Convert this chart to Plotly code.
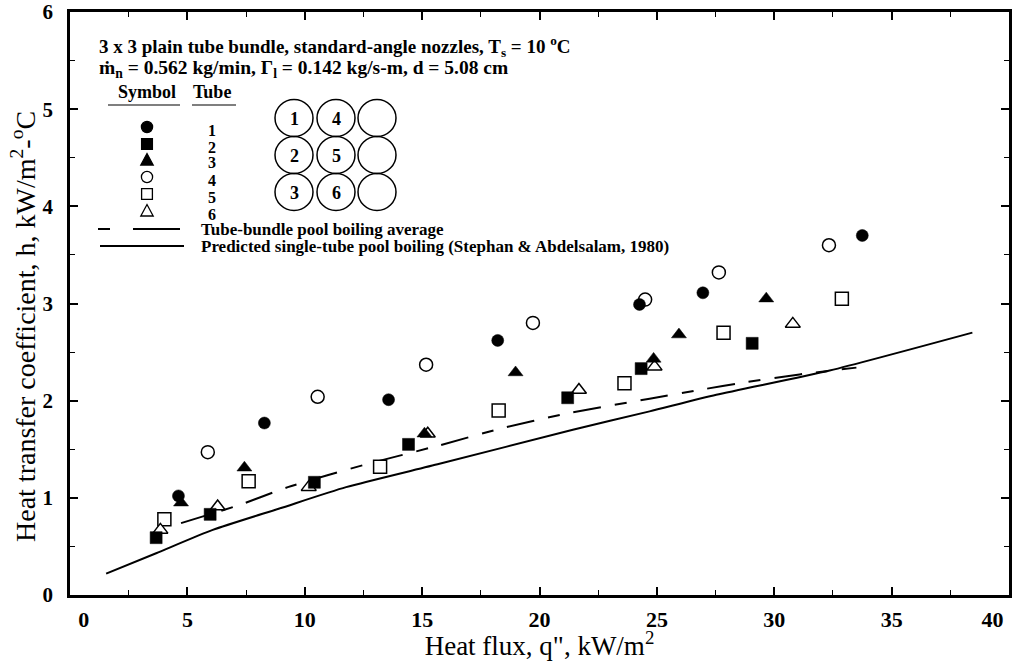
import plotly.graph_objects as go

# ---------------- data ----------------
tube1_q = [4.62, 8.28, 13.57, 18.22, 24.26, 26.96, 33.75]
tube1_h = [1.02, 1.77, 2.01, 2.62, 2.99, 3.11, 3.70]
tube2_q = [3.67, 5.97, 10.41, 14.42, 21.20, 24.33, 29.06]
tube2_h = [0.59, 0.83, 1.16, 1.55, 2.03, 2.33, 2.59]
tube3_q = [4.73, 7.43, 15.10, 18.98, 24.86, 25.94, 29.66]
tube3_h = [0.95, 1.31, 1.66, 2.29, 2.43, 2.68, 3.05]
tube4_q = [5.87, 10.55, 15.17, 19.72, 24.50, 27.64, 32.33]
tube4_h = [1.47, 2.04, 2.37, 2.80, 3.04, 3.32, 3.60]
tube5_q = [4.02, 7.61, 13.21, 18.26, 23.62, 27.84, 32.88]
tube5_h = [0.78, 1.17, 1.32, 1.90, 2.18, 2.70, 3.05]
tube6_q = [3.85, 6.29, 10.17, 15.24, 21.68, 24.90, 30.79]
tube6_h = [0.67, 0.91, 1.11, 1.66, 2.11, 2.35, 2.79]

avg_q = [4.73, 7.20, 9.28, 12.54, 15.74, 18.30, 21.20, 24.69, 26.80, 28.80, 31.08, 33.50]
avg_h = [0.74, 0.925, 1.11, 1.34, 1.54, 1.71, 1.87, 2.02, 2.11, 2.19, 2.27, 2.34]

pred_q = [1.54, 3.67, 6.08, 8.92, 11.76, 15.74, 21.42, 24.69, 27.53, 32.36, 38.44]
pred_h = [0.22, 0.43, 0.67, 0.89, 1.11, 1.35, 1.70, 1.89, 2.06, 2.31, 2.70]

x_tick_vals = [0, 5, 10, 15, 20, 25, 30, 35, 40]
x_tick_text = ["\u00a0\u00a0\u00a0\u00a0\u00a00", "5", "10", "15", "20", "25", "30", "35",
               "40\u00a0\u00a0\u00a0\u00a0\u00a0\u00a0"]
y_tick_vals = [0, 1, 2, 3, 4, 5, 6]

tube_labels = ["1", "2", "3", "4", "5", "6"]

# ---------------- layout geometry ----------------
W, H = 1013, 661
ML, MR, MT, MB = 70, 4, 12, 66
PW, PH = W - ML - MR, H - MT - MB
SERIF = "Liberation Serif"


def px(x):
    return (x - ML) / PW


def py(y):
    return (H - MB - y) / PH


fig = go.Figure()

# curves
fig.add_trace(go.Scatter(x=pred_q, y=pred_h, mode="lines",
                         line=dict(color="black", width=2, shape="spline", smoothing=0.6),
                         showlegend=False, hoverinfo="skip"))
fig.add_trace(go.Scatter(x=avg_q, y=avg_h, mode="lines",
                         line=dict(color="black", width=2, dash="28px,14px,12px,14px",
                                   shape="spline", smoothing=0.6),
                         showlegend=False, hoverinfo="skip"))

# open markers first, filled on top
open_series = [(tube4_q, tube4_h, "circle"), (tube5_q, tube5_h, "square"),
               (tube6_q, tube6_h, "triangle-up")]
for q, h, sym in open_series:
    fig.add_trace(go.Scatter(x=q, y=h, mode="markers", showlegend=False,
                             marker=dict(symbol=sym, size=13, color="white",
                                         line=dict(color="black", width=1.5))))
filled_series = [(tube1_q, tube1_h, "circle", 12), (tube2_q, tube2_h, "square", 12),
                 (tube3_q, tube3_h, "triangle-up", 13)]
for q, h, sym, s in filled_series:
    fig.add_trace(go.Scatter(x=q, y=h, mode="markers", showlegend=False,
                             marker=dict(symbol=sym, size=s, color="black",
                                         line=dict(color="black", width=0.5))))

shapes = []
annotations = []


def text(x, y, s, size=18, anchor="left", bold=True, angle=0):
    annotations.append(dict(x=px(x), y=py(y), xref="paper", yref="paper", text=s,
                            showarrow=False, xanchor=anchor, yanchor="middle",
                            textangle=angle,
                            font=dict(family=SERIF, size=size, color="black",
                                      weight="bold" if bold else "normal")))


def hline(x0, x1, y, w=1.5):
    shapes.append(dict(type="line", xref="paper", yref="paper", x0=px(x0), x1=px(x1),
                       y0=py(y), y1=py(y), line=dict(color="black", width=w)))


# header text
text(97, 46, "3 x 3 plain tube bundle, standard-angle nozzles, T<sub>s</sub> = 10 <sup>o</sup>C", size=19)
text(97, 69, "\u1e41<sub>n</sub> = 0.562 kg/min, \u0393<sub>l</sub> = 0.142 kg/s-m, d = 5.08 cm", size=19.5)

# legend table header
text(147, 92, "Symbol", anchor="center")
text(212, 92, "Tube", anchor="center")
hline(108, 180, 105, w=1.2)
hline(192, 236, 105, w=1.2)

# legend glyphs
gx = 147
rows = [127, 144, 160, 177, 194, 211]
glyph_kinds = [("circle", True), ("square", True), ("tri", True),
               ("circle", False), ("square", False), ("tri", False)]
for (kind, filled), yy, lab in zip(glyph_kinds, rows, tube_labels):
    fill = "black" if filled else "white"
    if kind == "circle":
        r = 5.6
        shapes.append(dict(type="circle", xref="paper", yref="paper",
                           x0=px(gx - r), x1=px(gx + r), y0=py(yy + r), y1=py(yy - r),
                           fillcolor=fill, line=dict(color="black", width=1.3)))
    elif kind == "square":
        r = 5.4
        shapes.append(dict(type="rect", xref="paper", yref="paper",
                           x0=px(gx - r), x1=px(gx + r), y0=py(yy + r), y1=py(yy - r),
                           fillcolor=fill, line=dict(color="black", width=1.3)))
    else:
        r = 6.2
        path = "M {a},{b} L {c},{b} L {d},{e} Z".format(
            a=px(gx - r), b=py(yy + 5), c=px(gx + r), d=px(gx), e=py(yy - 6.5))
        shapes.append(dict(type="path", xref="paper", yref="paper", path=path,
                           fillcolor=fill, line=dict(color="black", width=1.3)))
    text(212, yy + 3, lab, size=16, anchor="center")

# line legend
hline(98, 110, 229, w=2)
hline(133, 180, 229, w=2)
text(199, 229, "Tube-bundle pool boiling average", size=17)
hline(100, 184, 246, w=2)
text(199, 246, "Predicted single-tube pool boiling (Stephan &amp; Abdelsalam, 1980)", size=17)

# tube bundle schematic
cols = [294, 336, 377]
rws = [118, 155, 192]
numbers = [["1", "4", ""], ["2", "5", ""], ["3", "6", ""]]
for ri, yy in enumerate(rws):
    for ci, xx in enumerate(cols):
        shapes.append(dict(type="circle", xref="paper", yref="paper",
                           x0=px(xx - 19), x1=px(xx + 19), y0=py(yy + 18.5), y1=py(yy - 18.5),
                           line=dict(color="black", width=1.5), fillcolor="rgba(0,0,0,0)"))
        if numbers[ri][ci]:
            text(xx, yy + 1, numbers[ri][ci], size=18, anchor="center")

# y-axis title placed as in the reference (slightly below the plot centre)
text(23, 327, "Heat transfer coefficient, h, kW/m<sup>2</sup>-<sup>o</sup>C", size=28,
     anchor="center", bold=False, angle=-90)

axis_common = dict(showline=True, linecolor="black", linewidth=2.5, mirror="ticks",
                   ticks="inside", ticklen=8, tickwidth=1.5, tickcolor="black",
                   showgrid=False, zeroline=False, automargin=False)

fig.update_layout(
    width=W, height=H,
    margin=dict(l=ML, r=MR, t=MT, b=MB),
    paper_bgcolor="white", plot_bgcolor="white",
    showlegend=False,
    shapes=shapes, annotations=annotations,
    xaxis=dict(range=[0, 40], tickvals=x_tick_vals, ticktext=x_tick_text,
               ticklabeloverflow="allow",
               minor=dict(dtick=2.5, ticks="inside", ticklen=5, tickwidth=1.2, tickcolor="black"),
               tickfont=dict(family=SERIF, size=22, color="black", weight="bold"),
               ticklabelstandoff=3,
               title=dict(text="Heat flux, q\", kW/m<sup>2</sup>", standoff=0,
                          font=dict(family=SERIF, size=27, color="black")),
               **axis_common),
    yaxis=dict(range=[0, 6], tickvals=y_tick_vals,
               minor=dict(dtick=0.5, ticks="inside", ticklen=5, tickwidth=1.2, tickcolor="black"),
               tickfont=dict(family=SERIF, size=21, color="black", weight="bold"),
               ticklabelstandoff=10,
               **axis_common),
)

fig.write_html("out.html")
